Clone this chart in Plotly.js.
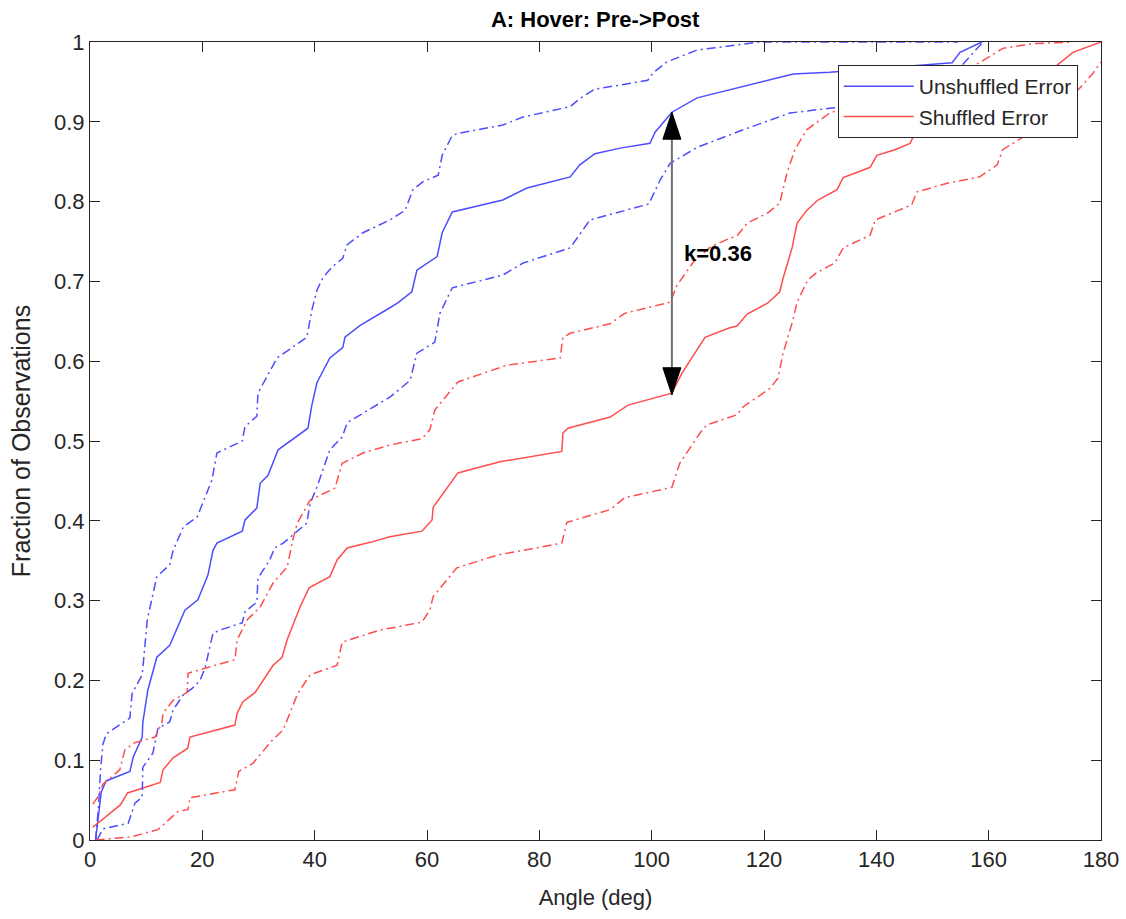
<!DOCTYPE html>
<html>
<head>
<meta charset="utf-8">
<script src="https://cdn.plot.ly/plotly-3.0.1.min.js"></script>
<style>
  html, body { margin: 0; padding: 0; background: #ffffff; }
  #chart { width: 1126px; height: 919px; }
</style>
</head>
<body>
<div id="chart"></div>
<script>
// ---- Data ----
const titleText = "A: Hover: Pre->Post";
const xLabel = "Angle (deg)";
const yLabel = "Fraction of Observations";
const seriesNames = ["Unshuffled Error", "Shuffled Error"];
const kLabel = "k=0.36";
const kX = 103.6;          // angle at which the KS distance is drawn
const kLow = 0.558;        // shuffled CDF value at kX
const kHigh = 0.912;       // unshuffled CDF value at kX

const xTicks = [0, 20, 40, 60, 80, 100, 120, 140, 160, 180];
const yTicks = [0, 0.1, 0.2, 0.3, 0.4, 0.5, 0.6, 0.7, 0.8, 0.9, 1];

// Unshuffled error: median CDF
const blueMidX = [1.0,1.5,2.0,2.85,7.1,7.7,9.3,9.4,10.3,11.9,14.2,16.9,19.2,21.0,21.9,22.6,27.1,27.6,29.7,30.3,31.7,33.5,38.8,39.5,40.4,42.7,45.0,45.4,48.1,53.4,54.8,57.3,58.2,61.8,62.7,64.5,73.5,77.8,85.5,87.2,89.9,94.4,99.7,100.6,103.6,108.1,125.2,131.7,153.5,154.9,158.8];
const blueMidY = [0,0.03,0.06,0.074,0.086,0.104,0.129,0.147,0.188,0.229,0.244,0.288,0.301,0.332,0.363,0.372,0.387,0.401,0.416,0.447,0.457,0.489,0.516,0.545,0.573,0.604,0.617,0.630,0.645,0.667,0.673,0.687,0.714,0.731,0.761,0.787,0.802,0.817,0.831,0.846,0.860,0.867,0.873,0.887,0.912,0.930,0.960,0.962,0.974,0.987,1.0];

// Unshuffled error: upper bound
const blueHiX = [1.0,1.5,1.9,2.3,2.9,7.1,7.5,9.3,10.2,11.9,14.2,14.8,16.6,19.1,21.7,22.6,27.1,27.6,29.7,29.9,33.3,38.6,39.5,40.4,41.5,43.1,45.0,45.8,48.6,53.4,56.1,57.5,59.3,62.0,62.7,64.5,65.9,73.5,77.1,85.5,87.2,89.9,94.4,99.3,100.2,102.7,108.1,114.5,119.3,154.5];
const blueHiY = [0,0.04,0.09,0.12,0.133,0.153,0.184,0.207,0.276,0.330,0.345,0.363,0.392,0.405,0.451,0.485,0.500,0.518,0.531,0.560,0.604,0.630,0.664,0.689,0.705,0.718,0.729,0.746,0.761,0.777,0.789,0.815,0.825,0.833,0.858,0.883,0.886,0.896,0.906,0.919,0.929,0.941,0.946,0.952,0.961,0.975,0.990,0.996,1.0,1.0];

// Unshuffled error: lower bound
const blueLoX = [1.25,2.3,6.8,7.5,8.0,9.3,9.4,11.2,11.6,12.1,14.2,14.8,16.6,18.2,19.6,20.5,21.9,23.1,27.1,27.6,29.7,29.9,32.0,32.9,34.4,38.6,39.2,40.4,42.7,44.9,45.8,47.5,53.4,57.0,58.2,61.4,62.3,64.5,73.5,77.1,85.5,89.0,99.5,101.5,103.3,108.1,116.3,124.6,131.7,150,159];
const blueLoY = [0,0.014,0.021,0.035,0.046,0.054,0.091,0.109,0.125,0.140,0.148,0.163,0.182,0.190,0.200,0.216,0.259,0.263,0.272,0.286,0.298,0.328,0.351,0.366,0.372,0.397,0.422,0.442,0.489,0.505,0.523,0.530,0.555,0.576,0.610,0.624,0.660,0.692,0.708,0.723,0.742,0.777,0.797,0.827,0.848,0.868,0.890,0.911,0.917,0.93,1.0];

// Shuffled error: median CDF
const redMidX = [0.5,5.4,6.7,12.5,13.0,14.8,17.4,17.8,25.8,26.2,27.2,29.4,32.6,34.2,35.1,36.5,37.4,39.0,42.7,44.0,45.8,49.9,53.4,59.1,60.9,61.1,64.6,65.5,73.0,84.0,84.2,85.1,92.6,95.8,103.6,105.4,109.5,113.9,115.2,117.0,120.7,122.8,123.4,125.0,125.9,127.6,129.6,133.0,134.1,138.9,140.1,143.3,146.0,147.2,155,165,172.2,175.0,180];
const redMidY = [0.016,0.044,0.059,0.072,0.088,0.103,0.115,0.129,0.144,0.159,0.173,0.185,0.219,0.229,0.251,0.276,0.292,0.316,0.330,0.351,0.366,0.373,0.380,0.387,0.401,0.417,0.451,0.460,0.474,0.487,0.510,0.516,0.530,0.545,0.560,0.585,0.630,0.642,0.644,0.659,0.673,0.687,0.704,0.742,0.773,0.789,0.802,0.815,0.830,0.843,0.858,0.865,0.873,0.890,0.91,0.94,0.971,0.987,1.0];

// Shuffled error: upper bound
const redHiX = [0.5,1.5,2.3,5.3,6.2,8.0,11.6,12.8,13.0,14.8,17.3,17.45,25.8,26.2,28.0,30.3,32.6,35.1,36.1,36.9,39.2,43.6,44.9,48.6,53.4,59.1,60.5,61.4,65.5,74.2,83.7,84.2,85.5,92.6,95.2,103.3,104.5,107.4,110.4,113.9,115.2,117.0,120.7,122.8,124.1,125.5,127.6,131.7,140,150,158.4,162.5,167.9,175];
const redHiY = [0.045,0.055,0.07,0.088,0.113,0.122,0.129,0.147,0.159,0.175,0.185,0.209,0.226,0.251,0.276,0.292,0.322,0.342,0.376,0.397,0.426,0.441,0.472,0.485,0.495,0.503,0.514,0.539,0.574,0.595,0.604,0.630,0.635,0.647,0.660,0.674,0.695,0.724,0.743,0.754,0.757,0.773,0.786,0.798,0.836,0.865,0.890,0.911,0.93,0.95,0.974,0.992,0.998,1.0];

// Shuffled error: lower bound
const redLoX = [1.0,7.3,12.1,13.0,15.7,17.45,17.8,25.8,26.5,29.0,32.3,34.4,36.1,37.0,39.2,44.0,44.9,51.6,59.1,60.5,61.1,65.3,72.5,84.0,84.9,92.6,95.2,103.6,105.0,108.6,109.8,115.2,116.3,121.1,122.5,123.4,125.0,125.9,127.8,129.4,132.6,134.1,138.9,139.8,146.3,147.2,152.6,158.4,161.5,162.5,167.3,173.9,178.6,180];
const redLoY = [0,0.004,0.013,0.019,0.036,0.038,0.053,0.063,0.086,0.096,0.124,0.138,0.169,0.184,0.207,0.219,0.248,0.263,0.273,0.288,0.305,0.341,0.357,0.372,0.398,0.414,0.429,0.442,0.472,0.510,0.520,0.533,0.543,0.566,0.579,0.610,0.648,0.674,0.702,0.711,0.723,0.742,0.758,0.777,0.796,0.812,0.823,0.831,0.846,0.865,0.886,0.924,0.961,0.975];

// ---- Styling ----
const BLUE = "rgb(77,77,255)";
const RED = "rgb(255,77,77)";
const AX = "#262626";
const FONT = "Liberation Sans, Arial, Helvetica, sans-serif";
const DASHDOT = "9px,4px,2px,4px";

function line(x, y, color, dash, name, show) {
  return {
    type: "scatter", mode: "lines", x: x, y: y, name: name,
    showlegend: show, hoverinfo: "skip",
    line: { color: color, width: 1.5, dash: dash }
  };
}

const traces = [
  line(blueMidX, blueMidY, BLUE, "solid", seriesNames[0], true),
  line(redMidX, redMidY, RED, "solid", seriesNames[1], true),
  line(blueHiX, blueHiY, BLUE, DASHDOT, seriesNames[0] + " upper", false),
  line(blueLoX, blueLoY, BLUE, DASHDOT, seriesNames[0] + " lower", false),
  line(redHiX, redHiY, RED, DASHDOT, seriesNames[1] + " upper", false),
  line(redLoX, redLoY, RED, DASHDOT, seriesNames[1] + " lower", false)
];

const layout = {
  width: 1126, height: 919,
  paper_bgcolor: "#ffffff", plot_bgcolor: "#ffffff",
  margin: { l: 90, r: 25, t: 42, b: 79, pad: 0 },
  font: { family: FONT, color: AX, size: 22 },
  title: {
    text: "<b>" + titleText + "</b>",
    font: { family: FONT, size: 22, color: "#000000" },
    x: 0.5286, xanchor: "center", y: 0.979, yanchor: "middle"
  },
  xaxis: {
    range: [0, 180], tickvals: xTicks, ticktext: xTicks.map(String),
    ticks: "inside", ticklen: 10, tickwidth: 1, tickcolor: AX,
    showline: true, linecolor: AX, linewidth: 1, mirror: "ticks",
    showgrid: false, zeroline: false,
    tickfont: { family: FONT, size: 22, color: AX },
    title: { text: xLabel, font: { family: FONT, size: 22, color: AX }, standoff: 18 }
  },
  yaxis: {
    range: [0, 1], tickvals: yTicks, ticktext: yTicks.map(String),
    ticks: "inside", ticklen: 10, tickwidth: 1, tickcolor: AX,
    showline: true, linecolor: AX, linewidth: 1, mirror: "ticks",
    showgrid: false, zeroline: false,
    tickfont: { family: FONT, size: 22, color: AX },
    title: { text: yLabel, font: { family: FONT, size: 25, color: AX }, standoff: 16 }
  },
  legend: {
    x: 0.977, xanchor: "right", y: 0.971, yanchor: "top",
    bgcolor: "#ffffff", bordercolor: AX, borderwidth: 1,
    font: { family: FONT, size: 21, color: AX },
    tracegroupgap: 0, itemwidth: 70
  },
  shapes: [
    { type: "line", xref: "x", yref: "y", x0: kX, x1: kX, y0: kLow, y1: kHigh,
      line: { color: "#707070", width: 2 } },
    { type: "path", xref: "x", yref: "y", xsizemode: "pixel", ysizemode: "pixel",
      xanchor: kX, yanchor: kHigh, path: "M0,0 L-9,-27 L9,-27 Z",
      fillcolor: "#000000", line: { color: "#000000", width: 1 } },
    { type: "path", xref: "x", yref: "y", xsizemode: "pixel", ysizemode: "pixel",
      xanchor: kX, yanchor: kLow, path: "M0,0 L-9,27 L9,27 Z",
      fillcolor: "#000000", line: { color: "#000000", width: 1 } }
  ],
  annotations: [
    { x: kX + 1.8, y: (kLow + kHigh) / 2, xref: "x", yref: "y",
      text: "<b>" + kLabel + "</b>", showarrow: false, xanchor: "left", yanchor: "middle",
      font: { family: FONT, size: 22, color: "#000000" } }
  ]
};

Plotly.newPlot("chart", traces, layout, { staticPlot: true, displayModeBar: false });
</script>
</body>
</html>
